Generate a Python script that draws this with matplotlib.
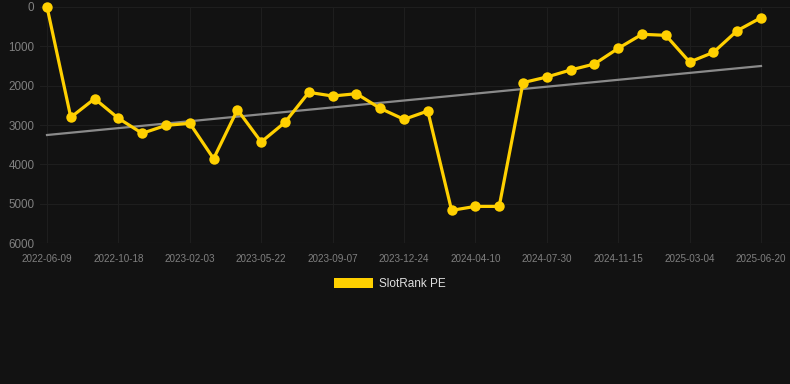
import matplotlib
matplotlib.use("Agg")
import matplotlib.pyplot as plt
from matplotlib.patches import Patch
import numpy as np

plt.rcParams['font.family'] = ['Liberation Sans', 'DejaVu Sans']

dates = ["2022-06-09", "", "", "2022-10-18", "", "", "2023-02-03", "", "",
         "2023-05-22", "", "", "2023-09-07", "", "", "2023-12-24", "", "",
         "2024-04-10", "", "", "2024-07-30", "", "", "2024-11-15", "", "",
         "2025-03-04", "", "", "2025-06-20"]
rank = [5, 2805, 2333, 2831, 3211, 3009, 2958, 3855, 2612, 3431, 2932,
        2172, 2265, 2206, 2578, 2857, 2645, 5165, 5064, 5064, 1926,
        1783, 1605, 1453, 1056, 700, 726, 1403, 1158, 608, 279]
trend_ends = [3254, 1504]
yticks = [0, 1000, 2000, 3000, 4000, 5000, 6000]
series_name = "SlotRank PE"

W, H = 790, 384
fig = plt.figure(figsize=(W / 100, H / 100), dpi=100)
fig.patch.set_facecolor('#121212')

left_px, right_px = 40, 790
top_px, bot_px = 6.7, 243.3
ax = fig.add_axes([left_px / W, 1 - bot_px / H, (right_px - left_px) / W, (bot_px - top_px) / H])
ax.set_facecolor('#121212')

x = np.arange(len(rank))
step = (761 - 47) / (len(rank) - 1)
ax.set_xlim(-(47 - left_px) / step, (len(rank) - 1) + (right_px - 761) / step)
ax.set_ylim(6000, 0)

ax.plot([x[0], x[-1]], trend_ends, color='#8a8a8a', lw=1.6, zorder=2)
ax.plot(x, rank, color='#FFD000', lw=2.3, marker='o', markersize=7.5,
        markeredgewidth=0, zorder=3, clip_on=False)

tick_idx = [i for i, d in enumerate(dates) if d]
ax.set_xticks(tick_idx)
ax.set_xticklabels([dates[i] for i in tick_idx])
ax.set_yticks(yticks)
ax.set_yticklabels([str(v) for v in yticks])
ax.tick_params(axis='x', length=0, pad=8, labelsize=7.1, colors='#808080')
ax.tick_params(axis='y', length=0, pad=4, labelsize=8.4, colors='#808080')
ax.grid(True, color='#1e1e1e', lw=0.8)
ax.set_axisbelow(True)
for s in ax.spines.values():
    s.set_visible(False)
ax.axhline(6000, color='#2c2c2c', lw=0.8, zorder=1)

leg = fig.legend(handles=[Patch(facecolor='#FFD000', edgecolor='none', label=series_name)],
                 loc='center', bbox_to_anchor=(390 / W, 1 - 284 / H), frameon=False,
                 fontsize=8.5, handlelength=3.3, handleheight=1.0, handletextpad=0.5,
                 labelcolor='#e0e0e0')

fig.savefig('out.png', dpi=100, facecolor=fig.get_facecolor())
